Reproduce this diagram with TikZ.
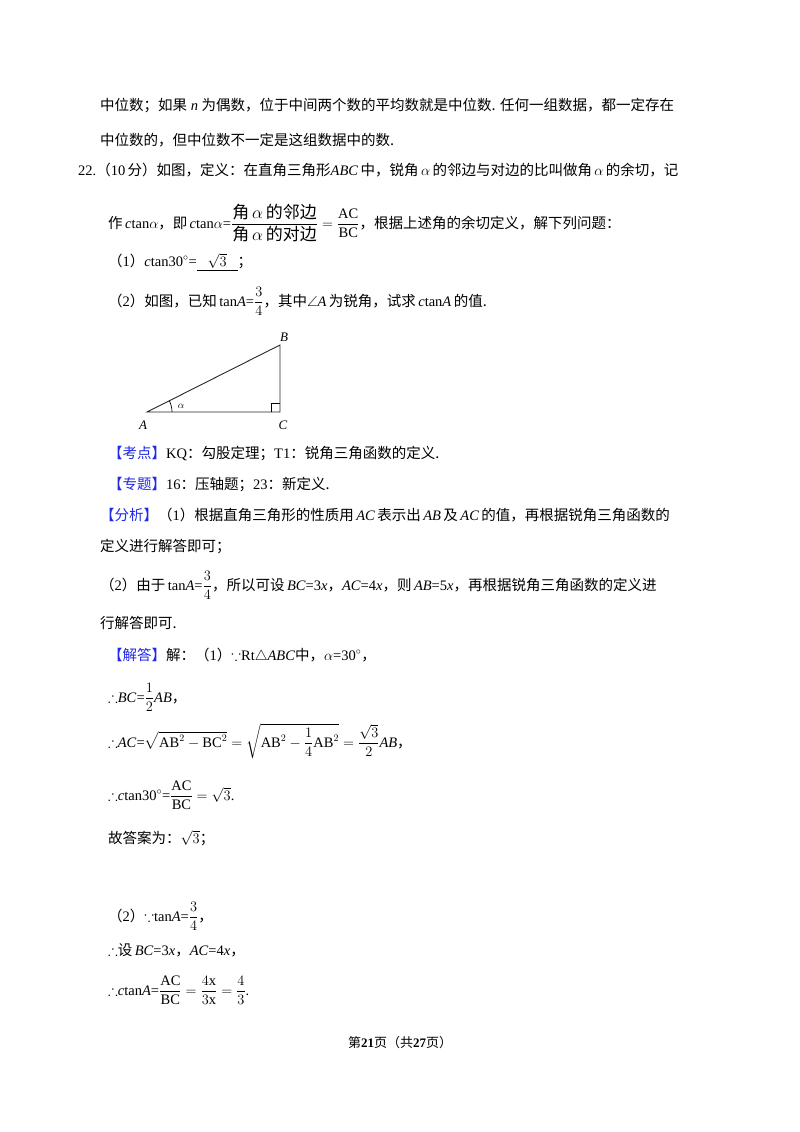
\documentclass[tikz,border=0pt]{standalone}
\usepackage{amsmath,amssymb}
\usepackage{fontspec}
\usetikzlibrary{calc}
\setmainfont{Liberation Serif}
\newfontfamily\cjk{Noto Sans CJK SC}
\newcommand\zh[1]{{\cjk #1}}
\definecolor{kblue}{RGB}{30,40,230}
\tikzset{ln/.style={anchor=base west,inner sep=0pt,font=\fontsize{14.5}{18}\selectfont},
  vlab/.style={font=\fontsize{13}{15}\selectfont\itshape}}
\begin{document}
\begin{tikzpicture}[x=1pt,y=-1pt]
\useasboundingbox (0,0) rectangle (800,1132);
\node[ln] (l1) at (100,110) {\zh{中位数；如果} \textit{n} \zh{为偶数，位于中间两个数的平均数就是中位数. 任何一组数据，都一定存在}};
\node[ln] (l2) at (100,145) {\zh{中位数的，但中位数不一定是这组数据中的数.}};
\node[ln] (l3) at (78,175) {22.\zh{（}10\,\zh{分）如图，定义：在直角三角形}\textit{ABC}\,\zh{中，锐角}\,$\alpha$\,\zh{的邻边与对边的比叫做角}\,$\alpha$\,\zh{的余切，记}};
\node[ln] (l4) at (108,228) {\zh{作}\,\textit{c}tan$\alpha$\zh{，即}\,\textit{c}tan$\alpha$=$\dfrac{\mbox{\fontsize{17}{19}\selectfont\zh{角}\,$\alpha$\,\zh{的邻边}}}{\mbox{\fontsize{17}{19}\selectfont\zh{角}\,$\alpha$\,\zh{的对边}}}=\dfrac{\mathrm{AC}}{\mathrm{BC}}$\zh{，根据上述角的余切定义，解下列问题：}};
\node[ln] (l5) at (108,266) {\zh{（}1\zh{）}\textit{c}tan30$^\circ$=\underline{\ \ \ $\sqrt{3}$\ \ \ }\zh{；}};
\node[ln] (l6) at (108,306) {\zh{（}2\zh{）如图，已知}\,tan\textit{A}=$\dfrac{3}{4}$\zh{，其中}$\angle$\textit{A}\,\zh{为锐角，试求}\,\textit{c}tan\textit{A}\,\zh{的值.}};
% triangle
\coordinate (A) at (147,412);
\coordinate (C) at (280,412);
\coordinate (B) at (280,345);
\draw[line width=0.9pt,black!85] (A) -- (C) -- (B) -- cycle;
\draw[line width=0.7pt] (271,412) -- (271,403) -- (280,403);
\draw[line width=0.7pt] ($(A)+(25,0)$) arc[start angle=0,end angle=-27,radius=25];
\node[font=\normalsize] (al) at (181,406) {$\alpha$};
\node[vlab] (la) at (143,425) {A};
\node[vlab] (lc) at (283,425) {C};
\node[vlab] (lb) at (284,337) {B};
\node[ln] (k1) at (108,458) {\zh{\textcolor{kblue}{【考点】}}KQ\zh{：勾股定理；}T1\zh{：锐角三角函数的定义.}};
\node[ln] (k2) at (108,489) {\zh{\textcolor{kblue}{【专题】}}16\zh{：压轴题；}23\zh{：新定义.}};
\node[ln] (k3) at (100,520) {\zh{\textcolor{kblue}{【分析】}（}1\zh{）根据直角三角形的性质用}\,\textit{AC}\,\zh{表示出}\,\textit{AB}\,\zh{及}\,\textit{AC}\,\zh{的值，再根据锐角三角函数的}};
\node[ln] (k4) at (100,551) {\zh{定义进行解答即可；}};
\node[ln] (k5) at (100,590) {\zh{（}2\zh{）由于}\,tan\textit{A}=$\dfrac{3}{4}$\zh{，所以可设}\,\textit{BC}=3\textit{x}\zh{，}\textit{AC}=4\textit{x}\zh{，则}\,\textit{AB}=5\textit{x}\zh{，再根据锐角三角函数的定义进}};
\node[ln] (k6) at (100,628) {\zh{行解答即可.}};
\node[ln] (s1) at (108,660) {\zh{\textcolor{kblue}{【解答】}解：（}1\zh{）}$\because$Rt$\triangle$\textit{ABC}\zh{中，}$\alpha$=30$^\circ$\zh{，}};
\node[ln] (s2) at (108,702) {$\therefore$\textit{BC}=$\dfrac{1}{2}$\textit{AB}\zh{，}};
\node[ln] (s3) at (108,747) {$\therefore$\textit{AC}=$\sqrt{\mathrm{AB}^2-\mathrm{BC}^2}=\sqrt{\mathrm{AB}^2-\dfrac14\mathrm{AB}^2}=\dfrac{\sqrt3}{2}$\textit{AB}\zh{，}};
\node[ln] (s4) at (108,800) {$\therefore$\textit{c}tan30$^\circ$=$\dfrac{\mathrm{AC}}{\mathrm{BC}}=\sqrt3$.};
\node[ln] (s5) at (108,843) {\zh{故答案为：}$\sqrt3$\zh{；}};
\node[ln] (s6) at (108,921) {\zh{（}2\zh{）}$\because$tan\textit{A}=$\dfrac34$\zh{，}};
\node[ln] (s7) at (108,955) {$\therefore$\zh{设}\,\textit{BC}=3\textit{x}\zh{，}\textit{AC}=4\textit{x}\zh{，}};
\node[ln] (s8) at (108,995) {$\therefore$\textit{c}tan\textit{A}=$\dfrac{\mathrm{AC}}{\mathrm{BC}}=\dfrac{4\mathrm{x}}{3\mathrm{x}}=\dfrac43$.};
\node[font=\fontsize{13}{15}\selectfont] (ft) at (400,1043) {\zh{第}\textbf{21}\zh{页（共}\textbf{27}\zh{页）}};
\end{tikzpicture}
\end{document}
